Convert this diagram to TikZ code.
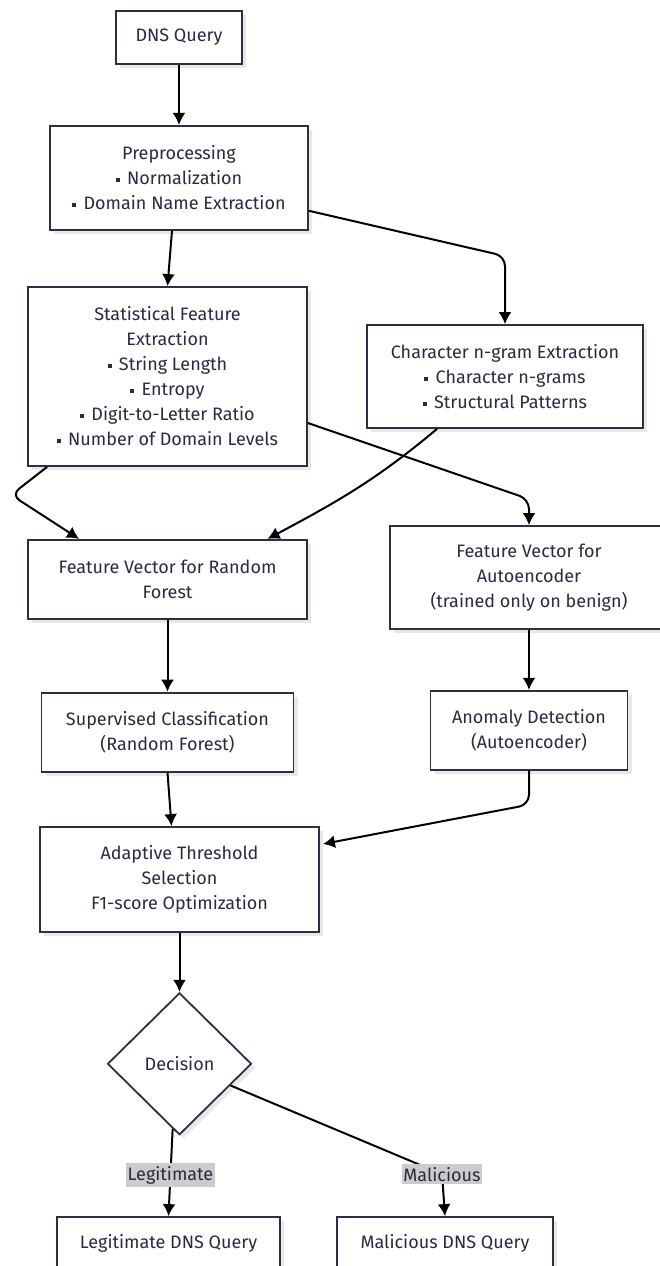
\documentclass[tikz,border=0pt]{standalone}
\usepackage{fontspec}
\setmainfont{Fira Sans}
\usetikzlibrary{shapes.geometric, arrows.meta, positioning, shadows}
\definecolor{mline}{HTML}{2E2E45}
\definecolor{mtext}{HTML}{2A2A40}
\definecolor{mshade}{HTML}{E8E8E8}
\definecolor{mlabel}{HTML}{CCCCCC}
\newcommand{\itm}{\rule[0.3ex]{4pt}{4pt}\hspace{0.4em}}
\tikzstyle{stage} = [rectangle, draw=mline, line width=1.8pt, fill=white, text=mtext, align=center, inner sep=0pt, drop shadow={shadow xshift=4pt, shadow yshift=-4pt, fill=mshade, opacity=1}]
\tikzstyle{choice} = [diamond, draw=mline, line width=1.8pt, fill=white, text=mtext, inner sep=0pt, drop shadow={shadow xshift=4pt, shadow yshift=-4pt, fill=mshade, opacity=1}]
\tikzstyle{flow} = [line width=2pt, -{Latex[length=12pt, width=13pt]}]
\tikzstyle{branch} = [fill=mlabel, text=mtext, inner xsep=1.5pt, inner ysep=3pt]

\begin{document}
\begin{tikzpicture}[x=1pt, y=-1pt, font=\fontsize{18pt}{25pt}\selectfont]
\useasboundingbox (0,0) rectangle (659,1266);
%Left column
\node (dns) [stage, minimum width=126pt, minimum height=53pt] at (179,37.5) {DNS Query};
\node (prep) [stage, minimum width=258pt, minimum height=104pt, below=60pt of dns] {Preprocessing\\ \itm Normalization\\ \itm Domain Name Extraction};
\node (stat) [stage, minimum width=279pt, minimum height=179pt] at (167.5,376.5) {Statistical Feature\\ Extraction\\ \itm String Length\\ \itm Entropy\\ \itm Digit-to-Letter Ratio\\ \itm Number of Domain Levels};
\node (fvrf) [stage, minimum width=279pt, minimum height=79pt, below=72pt of stat] {Feature Vector for Random\\ Forest};
\node (sup) [stage, minimum width=252pt, minimum height=79pt, below=72pt of fvrf] {Supervised Classification\\ (Random Forest)};
\node (adapt) [stage, minimum width=279pt, minimum height=105pt] at (179.5,879.5) {Adaptive Threshold\\ Selection\\ F1-score Optimization};
\node (dec) [choice, minimum width=144pt, minimum height=142pt, below=59pt of adapt] {Decision};
\node (legit) [stage, minimum width=223pt, minimum height=53pt] at (168.5,1243.5) {Legitimate DNS Query};
%Right column
\node (ngram) [stage, minimum width=276pt, minimum height=103pt] at (505,376.5) {Character n-gram Extraction\\ \itm Character n-grams\\ \itm Structural Patterns};
\node (fvae) [stage, minimum width=278pt, minimum height=103pt] at (529,577.5) {Feature Vector for\\ Autoencoder\\ (trained only on benign)};
\node (ad) [stage, minimum width=197pt, minimum height=79pt, below=60pt of fvae] {Anomaly Detection\\ (Autoencoder)};
\node (mal) [stage, minimum width=216pt, minimum height=53pt] at (445,1243.5) {Malicious DNS Query};
%Connections
\draw [flow] (dns) -- (prep);
\draw [flow] ([xshift=-7pt]prep.south) -- (stat.north);
\draw [flow, rounded corners=10pt] ([yshift=-33pt]prep.east) -- ([yshift=68pt]ngram.north) -- (ngram.north);
\draw [flow, rounded corners=10pt] ([xshift=20pt]stat.south west) -- ([xshift=-16pt, yshift=-28pt]stat.south west) -- ([xshift=52pt]fvrf.north west);
\draw [flow] ([xshift=-68pt]ngram.south) to[out=-140, in=28] ([xshift=100pt]fvrf.north);
\draw [flow, rounded corners=10pt] ([yshift=-46.5pt]stat.east) -- ([yshift=26pt]fvae.north) -- (fvae.north);
\draw [flow] (fvrf) -- (sup);
\draw [flow] (fvae) -- (ad);
\draw [flow] (sup.south) -- ([xshift=-8pt]adapt.north);
\draw [flow, rounded corners=10pt] (ad.south) -- ([yshift=-34pt]ad.south) -- ([xshift=3pt, yshift=35.5pt]adapt.east);
\draw [flow] (adapt) -- (dec);
\draw [flow] (dec.-96) -- node[branch, pos=0.53] {Legitimate} (legit.north);
\draw [flow] (dec.-23) -- ([xshift=-3pt, yshift=42pt]mal.north) node[branch] {Malicious} -- (mal.north);
\end{tikzpicture}
\end{document}
